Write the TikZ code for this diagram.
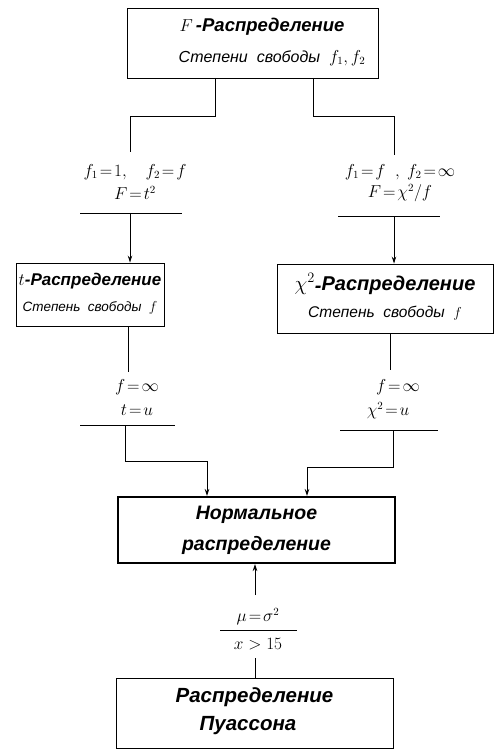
\documentclass[tikz,border=0pt]{standalone}
\usepackage{fontspec}
\setmainfont{Liberation Sans}
\usetikzlibrary{arrows.meta}
\begin{document}
\begin{tikzpicture}[x=1pt,y=-1pt,line width=0.9pt,
  box/.style={draw,rectangle,inner sep=0pt,align=center},
  ttl/.style={font=\fontsize{19.5}{22}\selectfont\bfseries\itshape},
  sub/.style={font=\fontsize{15.5}{18}\selectfont\itshape},
  lbl/.style={inner sep=0pt,font=\fontsize{16}{18}\selectfont},
  arr/.style={-{Stealth[length=7pt,width=4.5pt]}},
  rule/.style={line width=0.9pt}]
\useasboundingbox (0,0) rectangle (497,751);
% boxes
\node[box,minimum width=251pt,minimum height=70pt] (F) at (252.5,43) {};
\node[ttl,font=\fontsize{18.5}{22}\selectfont\bfseries\itshape] (Ft) at (262,27) {{\mdseries$F$}\,-Распределение};
\node[sub,font=\fontsize{16}{18}\selectfont\itshape] (Fs) at (272,58) {Степени\ \ свободы\ \ $f_1,f_2$};

\node[box,minimum width=148pt,minimum height=63pt] (T) at (90,294.5) {};
\node[ttl,font=\fontsize{17}{20}\selectfont\bfseries\itshape] (Tt) at (90,281) {{\mdseries$t$}-Распределение};
\node[sub,font=\fontsize{13.5}{16}\selectfont\itshape] (Ts) at (90,308) {Степень\ \ свободы\ \ $f$};

\node[box,minimum width=216pt,minimum height=69pt] (C) at (385,298.5) {};
\node[ttl,font=\fontsize{20}{22}\selectfont\bfseries\itshape] (Ct) at (385,284) {{\mdseries$\chi^2$}\raisebox{-2pt}{-}Распределение};
\node[sub] (Cs) at (385,313) {Степень\ \ свободы\ \ $f$};

\node[box,line width=2pt,minimum width=277pt,minimum height=66pt] (N) at (256.5,530) {};
\node[ttl] (Nt) at (256.5,515) {Нормальное};
\node[ttl] (Nb) at (256.5,545) {распределение};

\node[box,minimum width=277pt,minimum height=70pt] (P) at (254.5,713) {};
\node[ttl,font=\fontsize{20.5}{22}\selectfont\bfseries\itshape] (Pt) at (254.5,697) {Распределение};
\node[ttl,font=\fontsize{20.5}{22}\selectfont\bfseries\itshape] (Pb) at (248,726) {Пуассона};

% labels
\node[lbl] (L1) at (135,172) {$f_1\!=\!1,\quad f_2\!=\!f$};
\node[lbl] (L2) at (135,193) {$F\!=\!t^2$};
\node[lbl] (R1) at (400,172) {$f_1\!=\!f\;\;,\ f_2\!=\!\infty$};
\node[lbl] (R2) at (400,193) {$F\!=\!\chi^2/f$};
\node[lbl] (L3) at (137,387) {$f\!=\!\infty$};
\node[lbl] (L4) at (137,410) {$t\!=\!u$};
\node[lbl] (R3) at (398,387) {$f\!=\!\infty$};
\node[lbl] (R4) at (388,411) {$\chi^2\!=\!u$};
\node[lbl] (M1) at (258,617) {$\mu\!=\!\sigma^2$};
\node[lbl] (M2) at (258,644) {$x>15$};

% junction coordinates
\coordinate (a1) at (215,78);
\coordinate (a2) at (215,116);
\coordinate (a3) at (130,116);
\coordinate (a4) at (130,152);
\coordinate (b1) at (313,78);
\coordinate (b2) at (313,116);
\coordinate (b3) at (394,116);
\coordinate (b4) at (394,155);
\coordinate (rl1) at (80,213);
\coordinate (rl2) at (182,213);
\coordinate (rl0) at (130,213);
\coordinate (rr1) at (338,216);
\coordinate (rr2) at (440,216);
\coordinate (rr0) at (394,216);
\coordinate (c1) at (128,326);
\coordinate (c2) at (128,372);
\coordinate (d1) at (390,333);
\coordinate (d2) at (390,370);
\coordinate (sl1) at (80,425);
\coordinate (sl2) at (175,425);
\coordinate (sl0) at (125,425);
\coordinate (sl3) at (125,461);
\coordinate (sl4) at (207,461);
\coordinate (sr1) at (340,430);
\coordinate (sr2) at (438,430);
\coordinate (sr0) at (393,430);
\coordinate (sr3) at (393,467);
\coordinate (sr4) at (307,467);
\coordinate (m0) at (255,595);
\coordinate (mr1) at (220,630);
\coordinate (mr2) at (297,630);
\coordinate (m3) at (255,658);

% connectors
\draw (a1) -- (a2) -- (a3) -- (a4);
\draw (b1) -- (b2) -- (b3) -- (b4);
\draw[rule] (rl1) -- (rl2);
\draw[rule] (rr1) -- (rr2);
\draw[arr] (rl0) -- (rl0 |- T.north);
\draw[arr] (rr0) -- (rr0 |- C.north);
\draw (c1) -- (c2);
\draw (d1) -- (d2);
\draw[rule] (sl1) -- (sl2);
\draw[rule] (sr1) -- (sr2);
\draw[arr] (sl0) -- (sl3) -- (sl4) -- (sl4 |- N.north);
\draw[arr] (sr0) -- (sr3) -- (sr4) -- (sr4 |- N.north);
\draw[arr] (m0) -- (m0 |- N.south);
\draw[rule] (mr1) -- (mr2);
\draw (m3) -- (m3 |- P.north);
\end{tikzpicture}
\end{document}
